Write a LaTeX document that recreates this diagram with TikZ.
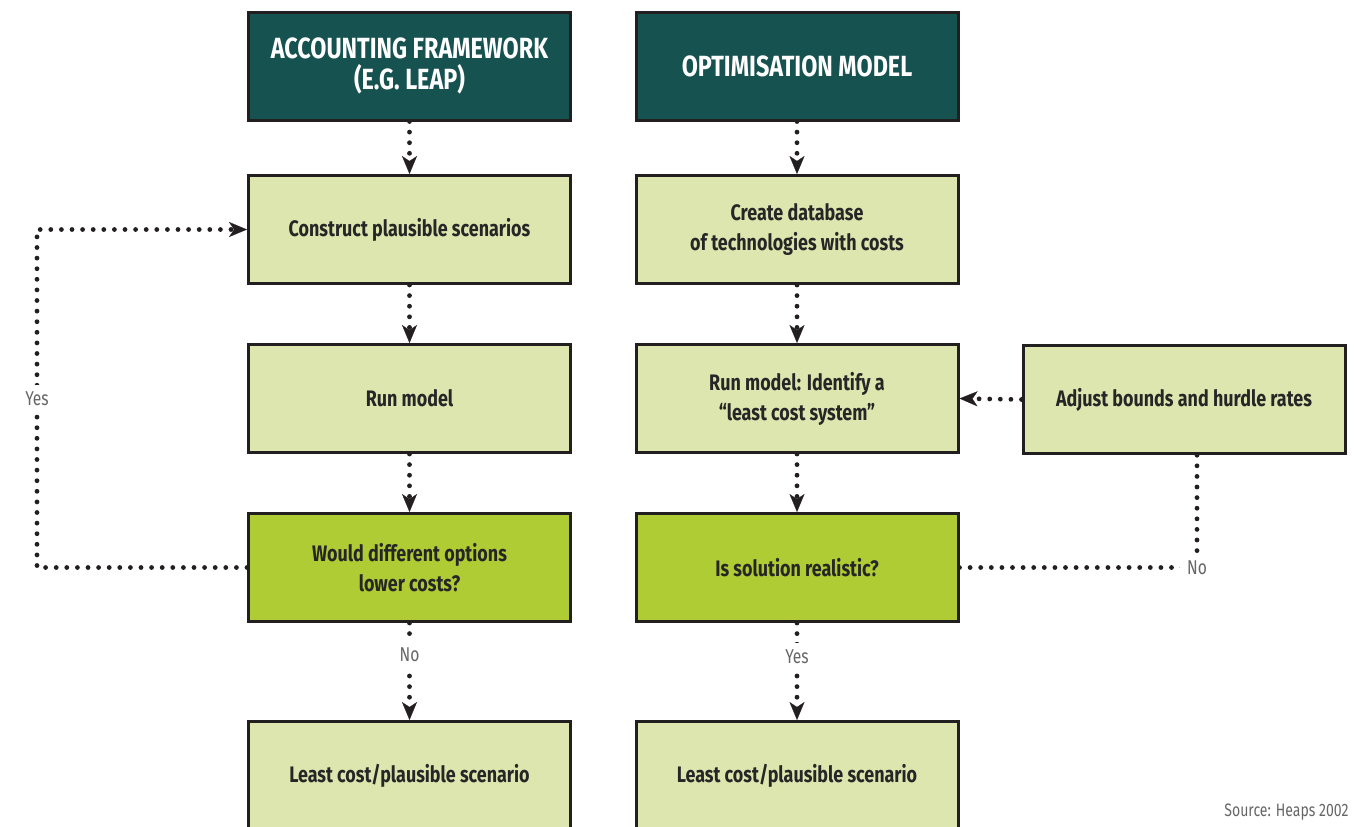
\documentclass[tikz,border=0pt]{standalone}
\usepackage{fontspec}
\setmainfont{Fira Sans}[FakeStretch=0.8]
\newfontfamily\lblfont{Fira Sans}[FakeStretch=0.78]
\usetikzlibrary{arrows.meta}
\definecolor{darkteal}{HTML}{16524F}
\definecolor{lightgreen}{HTML}{DDE6AF}
\definecolor{brightgreen}{HTML}{B0CC34}
\definecolor{borderc}{HTML}{231F20}
\definecolor{lblgray}{HTML}{666666}
\tikzset{
  box/.style={draw=borderc, line width=1.5pt, minimum width=161pt, minimum height=54pt,
    align=center, font=\bfseries\fontsize{11.2}{15}\selectfont, text=black!85, inner sep=2pt},
  titlebox/.style={box, fill=darkteal, text=white, font=\bfseries\fontsize{14.6}{15.5}\selectfont},
  stepbox/.style={box, fill=lightgreen},
  qbox/.style={box, fill=brightgreen},
  dotline/.style={draw=borderc, line width=2.4pt, line cap=round, dash pattern=on 0pt off 5.3pt},
  dotarrow/.style={dotline, -{Stealth[length=9pt,width=7.5pt,inset=2.5pt,line width=0.1pt]}},
  lab/.style={fill=white, text=lblgray, font=\lblfont\fontsize{10}{12}\selectfont, inner sep=3.5pt}
}
\begin{document}
\begin{tikzpicture}[x=0.5pt,y=-0.5pt]
\useasboundingbox (0,0) rectangle (1354,826);
\clip (0,0) rectangle (1354,826);
% left column
\node[titlebox] (t1) at (409.5,66) {ACCOUNTING FRAMEWORK\\(E.G. LEAP)};
\node[stepbox] (l2) at (409.5,229.5) {Construct plausible scenarios};
\node[stepbox] (l3) at (409.5,398.5) {Run model};
\node[qbox] (q1) at (409.5,567.5) {Would different options\\lower costs?};
\node[stepbox] (r1) at (409.5,775.5) {Least cost/plausible scenario};
% right column
\node[titlebox] (t2) at (797,66) {OPTIMISATION MODEL};
\node[stepbox] (m1) at (797,229.5) {Create database\\of technologies with costs};
\node[stepbox] (m2) at (797,398.5) {Run model: Identify a\\“least cost system”};
\node[qbox] (q2) at (797,567.5) {Is solution realistic?};
\node[stepbox] (r2) at (797,775.5) {Least cost/plausible scenario};
\node[stepbox] (adj) at (1184,399.5) {Adjust bounds and hurdle rates};
% connectors left
\draw[dotarrow] (t1.south) -- (l2.north);
\draw[dotarrow] (l2.south) -- (l3.north);
\draw[dotarrow] (l3.south) -- (q1.north);
\draw[dotarrow] (q1.south) -- node[lab, pos=0.33] {No} (r1.north);
\draw[dotarrow] (q1.west) -- ++(-210,0) |- node[lab, pos=0.25] {Yes} (l2.west);
% connectors right
\draw[dotarrow] (t2.south) -- (m1.north);
\draw[dotarrow] (m1.south) -- (m2.north);
\draw[dotarrow] (m2.south) -- (q2.north);
\draw[dotarrow] (q2.south) -- node[lab, pos=0.35] {Yes} (r2.north);
\coordinate (cno) at (1197,567.5);
\draw[dotline] (q2.east) -- (cno) -- (adj.south -| cno);
\node[lab] (no2) at (cno) {No};
\draw[dotarrow] (adj.west) -- (m2.east);
% source
\node[anchor=east, text=lblgray, font=\lblfont\fontsize{9}{11}\selectfont, inner sep=0pt] (src) at (1349,812) {Source: Heaps 2002};
\end{tikzpicture}
\end{document}
